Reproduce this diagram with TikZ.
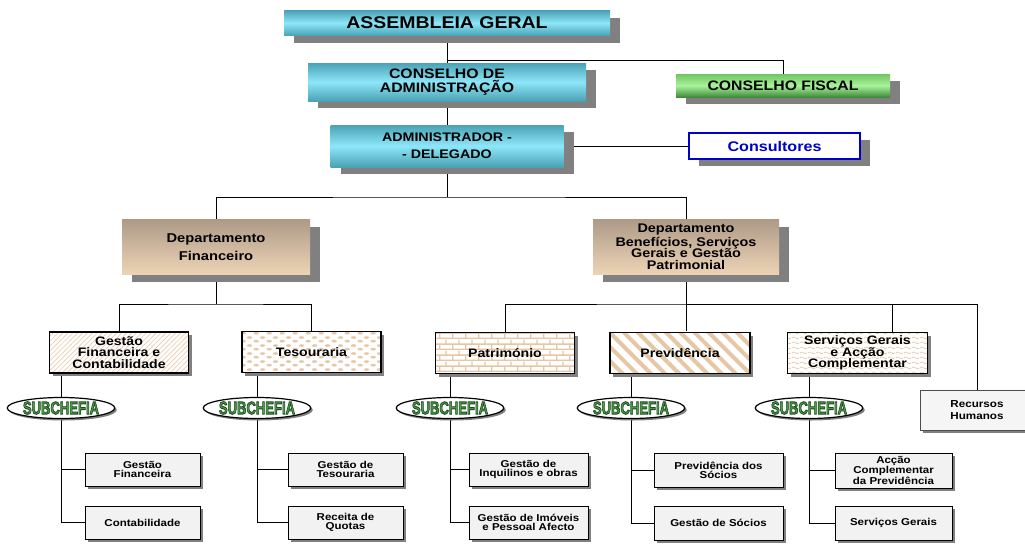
\documentclass[tikz,border=0pt]{standalone}
\usepackage{fontspec}
\setmainfont{Liberation Sans}[FakeStretch=1.15]
\usetikzlibrary{shapes.geometric,shadows,patterns,patterns.meta,backgrounds}

\definecolor{cyanDk}{HTML}{4AA2B4}
\definecolor{cyanLt}{HTML}{8EE6FA}
\definecolor{greenMd}{HTML}{72C262}
\definecolor{greenLt}{HTML}{A9F39B}
\definecolor{greenDk}{HTML}{3F8B3B}
\definecolor{tanTop}{HTML}{AE9A87}
\definecolor{tanBot}{HTML}{EDD4B6}
\definecolor{patTan}{HTML}{E6C6A4}
\definecolor{hatchTan}{HTML}{EBCBAB}
\definecolor{shadowGray}{HTML}{808080}
\definecolor{consBlue}{HTML}{0000CC}
\definecolor{subGreen}{HTML}{4E9E4E}
\definecolor{leafGray}{HTML}{F2F2F2}

\pgfdeclarepatternformonly{weave}{\pgfpointorigin}{\pgfqpoint{10pt}{6pt}}{\pgfqpoint{10pt}{6pt}}{%
  \pgfpathellipse{\pgfqpoint{2.5pt}{1.5pt}}{\pgfqpoint{2.1pt}{0pt}}{\pgfqpoint{0pt}{1.1pt}}%
  \pgfpathellipse{\pgfqpoint{7.5pt}{4.5pt}}{\pgfqpoint{2.1pt}{0pt}}{\pgfqpoint{0pt}{1.1pt}}%
  \pgfusepath{fill}}
\pgfdeclarepatternformonly{brickwall}{\pgfpointorigin}{\pgfqpoint{10pt}{8pt}}{\pgfqpoint{10pt}{8pt}}{%
  \pgfsetlinewidth{1pt}%
  \pgfpathmoveto{\pgfqpoint{0pt}{0.5pt}}\pgfpathlineto{\pgfqpoint{10pt}{0.5pt}}%
  \pgfpathmoveto{\pgfqpoint{0pt}{4.5pt}}\pgfpathlineto{\pgfqpoint{10pt}{4.5pt}}%
  \pgfpathmoveto{\pgfqpoint{0.5pt}{0.5pt}}\pgfpathlineto{\pgfqpoint{0.5pt}{4.5pt}}%
  \pgfpathmoveto{\pgfqpoint{5.5pt}{4.5pt}}\pgfpathlineto{\pgfqpoint{5.5pt}{8pt}}%
  \pgfusepath{stroke}}
\pgfdeclarepatternformonly{wavy}{\pgfpointorigin}{\pgfqpoint{6pt}{3.5pt}}{\pgfqpoint{6pt}{3.5pt}}{%
  \pgfsetlinewidth{0.5pt}%
  \pgfpathmoveto{\pgfqpoint{0pt}{1.75pt}}%
  \pgfpathcurveto{\pgfqpoint{1pt}{2.75pt}}{\pgfqpoint{2pt}{2.75pt}}{\pgfqpoint{3pt}{1.75pt}}%
  \pgfpathcurveto{\pgfqpoint{4pt}{0.75pt}}{\pgfqpoint{5pt}{0.75pt}}{\pgfqpoint{6pt}{1.75pt}}%
  \pgfusepath{stroke}}

\newcommand\subtext{\scalebox{0.63}[1]{\color{subGreen}\special{pdf:literal direct 0.12 0.29 0.12 RG 0.7 w 2 Tr}SUBCHEFIA\special{pdf:literal direct 0 Tr}}}

\begin{document}
\begin{tikzpicture}[x=0.75pt,y=-0.75pt,
  sz/.style 2 args={minimum width=#1*0.75pt,minimum height=#2*0.75pt},
  conn/.style={line width=0.75pt,black},
  shad/.style={drop shadow={shadow xshift=7.5pt,shadow yshift=-5.25pt,fill=shadowGray,opacity=1}},
  smallshad/.style={drop shadow={shadow xshift=2.25pt,shadow yshift=-2.25pt,fill=shadowGray,opacity=1}},
  topbox/.style={shad,inner sep=0pt,align=center,top color=cyanDk,bottom color=cyanDk,middle color=cyanLt},
  deptbox/.style={shad,inner sep=0pt,align=center,top color=tanTop,bottom color=tanBot},
  midbox/.style={smallshad,preaction={fill=white},draw,line width=1.1pt,inner sep=0pt,align=center,
    sz={139}{41},font=\fontsize{9.2}{8.7}\selectfont\bfseries},
  leaf/.style={smallshad,draw,line width=0.6pt,fill=leafGray,inner sep=0pt,align=center,
    font=\fontsize{7.5}{7}\selectfont\bfseries},
  subc/.style={ellipse,draw,line width=0.9pt,fill=white,inner sep=0pt,sz={105}{21},
    drop shadow={shadow xshift=1.5pt,shadow yshift=-1.5pt,fill=shadowGray,opacity=1},
    font=\fontsize{13.5}{14}\selectfont\bfseries}]
  \useasboundingbox (0,0) rectangle (1025,543);
  % direccao
  \node[topbox,sz={326}{25},font=\fontsize{12.7}{14}\selectfont\bfseries] (asm) at (447,23) {ASSEMBLEIA GERAL};
  \node[topbox,sz={278}{38},font=\fontsize{10.3}{10.3}\selectfont\bfseries] (cadm) at (447,82) {CONSELHO DE\\ADMINISTRAÇÃO};
  \node[shad,inner sep=0pt,sz={214}{23},top color=greenMd,bottom color=greenDk,middle color=greenLt,
    font=\fontsize{10.3}{12}\selectfont\bfseries] (cfis) at (783,85.5) {CONSELHO FISCAL};
  \node[topbox,sz={233}{42},font=\fontsize{9.3}{12.5}\selectfont\bfseries] (adel) at (447,146) {ADMINISTRADOR -\\- DELEGADO};
  \node[shad,inner sep=0pt,sz={171}{26},draw=consBlue,line width=1pt,fill=white,text=consBlue,
    font=\fontsize{10.5}{12}\selectfont\bfseries] (cons) at (774.5,146) {Consultores};
  % departamentos
  \node[deptbox,sz={188}{55},font=\fontsize{9.6}{13.5}\selectfont\bfseries] (dfin) at (216,247) {Departamento\\Financeiro};
  \node[deptbox,sz={186}{55},font=\fontsize{9.4}{8.8}\selectfont\bfseries] (dben) at (686,247) {Departamento\\Benefícios, Serviços\\Gerais e Gestão\\Patrimonial};
  % areas
  \node[midbox,pattern={Lines[angle=45,distance=2.6pt,line width=0.5pt]},pattern color=hatchTan] (gfc) at (119,352.5) {Gestão\\Financeira e\\Contabilidade};
  \node[midbox,pattern=weave,pattern color=patTan] (tes) at (311.5,352) {Tesouraria};
  \node[midbox,pattern=brickwall,pattern color=patTan] (pat) at (505,353) {Património};
  \node[midbox,sz={140}{41},pattern={Lines[angle=-45,distance=7.5pt,line width=3pt]},pattern color=patTan] (prev) at (680,353) {Previdência};
  \node[midbox,sz={140}{41},pattern=wavy,pattern color=patTan] (sga) at (857.5,353) {Serviços Gerais\\e Acção\\Complementar};
  \node[leaf,sz={114}{40},fill=white!96!black,draw=black!70,font=\fontsize{7.6}{8.75}\selectfont\bfseries] (rh) at (977,410) {Recursos\\Humanos};
  % subchefias
  \foreach \n/\x in {1/61,2/257,3/450,4/631,5/809}
    \node[subc] (sc\n) at (\x,408) {\subtext};
  % servicos
  \node[leaf,sz={115}{33}] (gf1) at (142.5,469.5) {Gestão\\Financeira};
  \node[leaf,sz={115}{33}] (gf2) at (142.5,522.5) {Contabilidade};
  \node[leaf,sz={115}{33}] (gt1) at (345.5,469.5) {Gestão de\\Tesouraria};
  \node[leaf,sz={115}{33}] (gt2) at (345.5,522.5) {Receita de\\Quotas};
  \node[leaf,sz={119}{33}] (gp1) at (528.5,469.5) {Gestão de\\Inquilinos e obras};
  \node[leaf,sz={119}{33}] (gp2) at (528.5,522.5) {Gestão de Imóveis\\e Pessoal Afecto};
  \node[leaf,sz={129}{34}] (gv1) at (718.5,470) {Previdência dos\\Sócios};
  \node[leaf,sz={129}{34}] (gv2) at (718.5,523) {Gestão de Sócios};
  \node[leaf,sz={117}{35}] (gs1) at (893.5,470.5) {Acção\\Complementar\\da Previdência};
  \node[leaf,sz={117}{34}] (gs2) at (893.5,523) {Serviços Gerais};

  \coordinate (cfj) at (447,60);
  \coordinate (topbar) at (447,197);
  \coordinate (finbar) at (216,304);
  \coordinate (benbar) at (686,304);
  \begin{scope}[on background layer]
    \draw[conn] (asm) -- (adel);
    \draw[conn] (cfj) -| (cfis);
    \draw[conn] (adel) -- (cons);
    \draw[conn] (adel) -- (topbar);
    \draw[conn] (dfin.north) |- (topbar) -| (dben.north);
    \draw[conn] (dfin.south) -- (finbar);
    \draw[conn] (gfc.north) |- (finbar) -| (tes.north);
    \draw[conn] (dben.south) -- (benbar);
    \draw[conn] (pat.north) |- (benbar) -| (rh.north);
    \draw[conn] (benbar) -- ([xshift=4.5pt]prev.north);
    \draw[conn] ([xshift=26.25pt]sga.north) |- (benbar);
    \foreach \m/\n/\a/\b in {gfc/1/gf1/gf2,tes/2/gt1/gt2,pat/3/gp1/gp2,prev/4/gv1/gv2,sga/5/gs1/gs2} {
      \draw[conn] (\m.south -| sc\n) |- (\b);
      \draw[conn] (sc\n |- \a) -- (\a);
    }
  \end{scope}
\end{tikzpicture}
\end{document}
